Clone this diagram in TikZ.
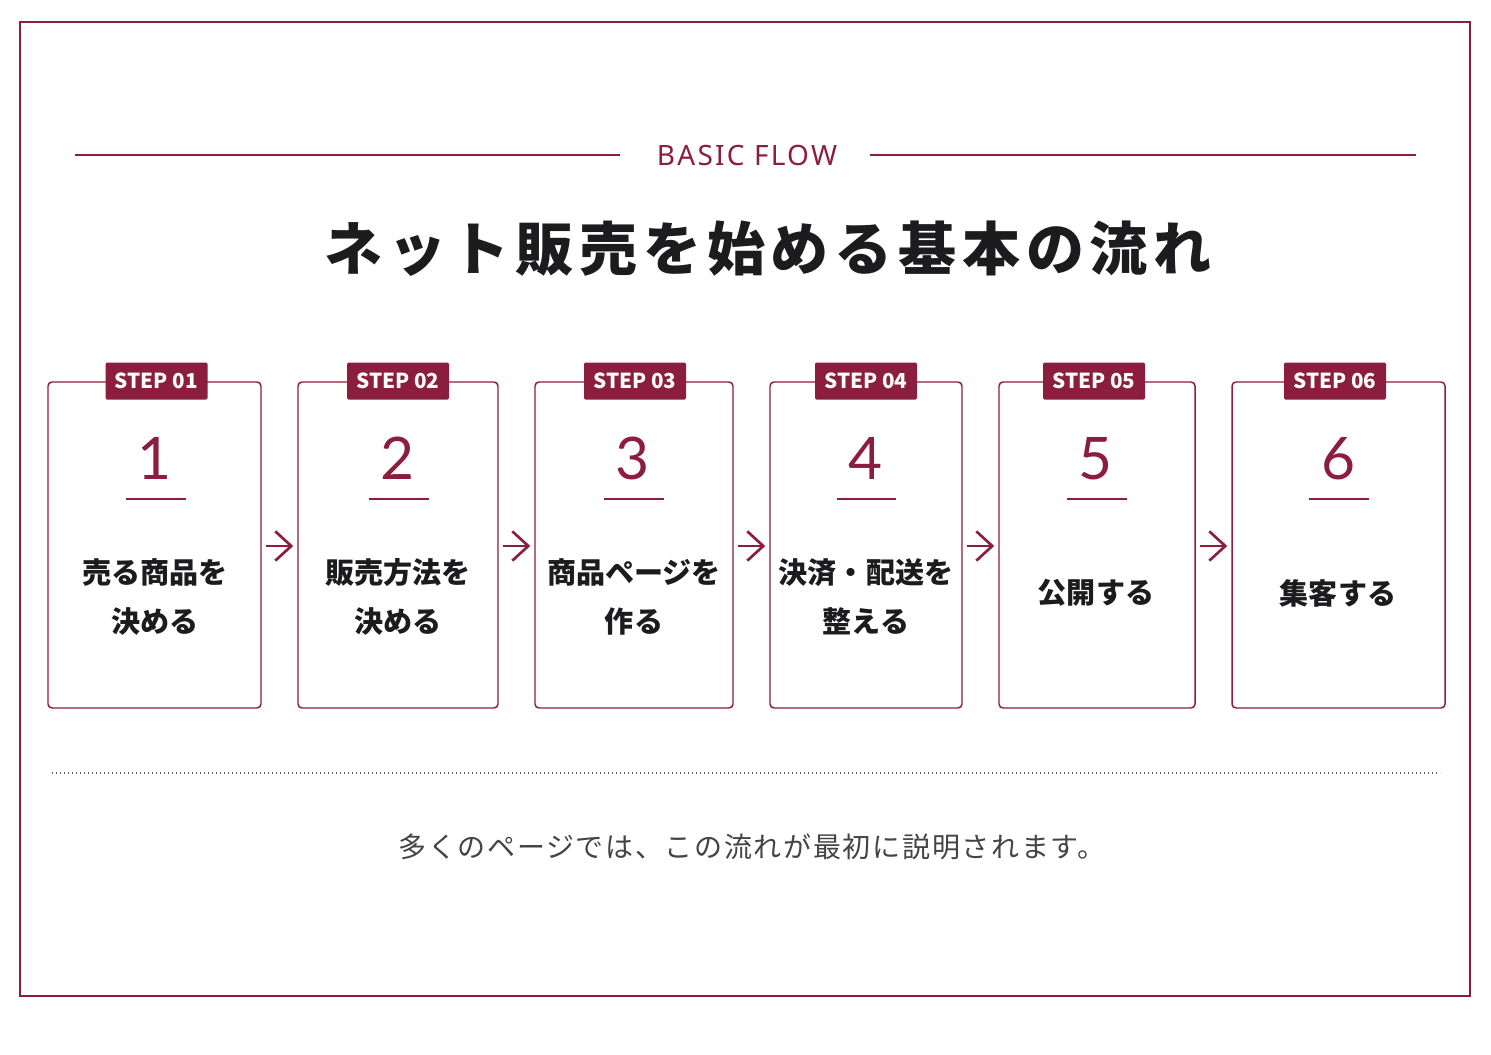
\documentclass[tikz,border=0pt]{standalone}
\usepackage{fontspec}
\usetikzlibrary{arrows.meta}
\setmainfont{Noto Sans CJK JP}
\newfontfamily\jp{Noto Sans CJK JP}
\newfontfamily\jptitle{Noto Sans CJK JP}[LetterSpace=10]
\newfontfamily\jpnote{Noto Sans CJK JP}[LetterSpace=6]
\newfontfamily\jptag{Noto Sans CJK JP}
\newfontfamily\lat{Noto Sans}
\newfontfamily\latsp{Noto Sans}[LetterSpace=8]
\IfFontExistsTF{Lato}{\newfontfamily\numfont{Lato}}{%
  \IfFontExistsTF{Fira Sans Light}{\newfontfamily\numfont{Fira Sans Light}}{\newfontfamily\numfont{Noto Sans}}}
\definecolor{wine}{HTML}{8B1E3E}
\definecolor{ink}{HTML}{1C1C1E}
\definecolor{note}{HTML}{444444}
\tikzset{
  stepbox/.style={draw=wine, line width=1.1pt, rounded corners=3pt, fill=white, minimum height=244.5pt, inner sep=0pt},
  steptag/.style={fill=wine, rounded corners=1pt, minimum width=76.5pt, minimum height=27.75pt, inner sep=0pt, text=white, font=\jptag\bfseries\fontsize{15.5}{18}\selectfont},
  stepnum/.style={text=wine, anchor=base, inner sep=0pt, font=\numfont\fontsize{44}{50}\selectfont},
  steptext/.style={text=ink, align=center, inner sep=0pt, font=\jp\bfseries\fontsize{21.8}{36.75}\selectfont},
  numline/.style={draw=wine, line width=1.1pt},
  flowarrow/.style={draw=wine, line width=2pt, -{Straight Barb[length=12pt,width=22pt,line width=2pt]}, shorten <=3pt, shorten >=3pt}
}
\begin{document}
\begin{tikzpicture}[x=0.75pt,y=-0.75pt]
\path[fill=white] (0,0) rectangle (1491,1055);
\useasboundingbox (0,0) rectangle (1491,1055);
% outer frame
\draw[wine, line width=1.5pt] (20,22) rectangle (1470,996);
% header
\node[text=wine, font=\latsp\fontsize{21}{24}\selectfont, inner sep=0pt] (bf) at (747,155) {BASIC FLOW};
\draw[wine, line width=1pt] (75,155) -- (620,155);
\draw[wine, line width=1pt] (870,155) -- (1416,155);
\node[text=ink, font=\jptitle\bfseries\fontsize{43.5}{50}\selectfont, inner sep=0pt] (title) at (768,249) {ネット販売を始める基本の流れ};
% boxes
\node[stepbox, minimum width=159.75pt] (b1) at (154.5,545) {};
\node[stepbox, minimum width=150pt] (b2) at (398,545) {};
\node[stepbox, minimum width=148.5pt] (b3) at (634,545) {};
\node[stepbox, minimum width=144pt] (b4) at (866,545) {};
\node[stepbox, minimum width=147pt] (b5) at (1097,545) {};
\node[stepbox, minimum width=159.75pt] (b6) at (1338.5,545) {};
% tags
\node[steptag] (t1) at (156.5,381) {STEP 01};
\node[steptag] (t2) at (398,381) {STEP 02};
\node[steptag] (t3) at (635,381) {STEP 03};
\node[steptag] (t4) at (866,381) {STEP 04};
\node[steptag] (t5) at (1094,381) {STEP 05};
\node[steptag] (t6) at (1335,381) {STEP 06};
% numbers
\node[stepnum] (n1) at (155,479) {1};
\node[stepnum] (n2) at (398,479) {2};
\node[stepnum] (n3) at (633,479) {3};
\node[stepnum] (n4) at (866,479) {4};
\node[stepnum] (n5) at (1095,479) {5};
\node[stepnum] (n6) at (1338,479) {6};
\draw[numline] (126,499) -- (186,499);
\draw[numline] (369,499) -- (429,499);
\draw[numline] (604,499) -- (664,499);
\draw[numline] (837,499) -- (896,499);
\draw[numline] (1067,499) -- (1127,499);
\draw[numline] (1309,499) -- (1369,499);
% texts
\node[steptext] (s1) at (155,597) {売る商品を\\決める};
\node[steptext] (s2) at (398,597) {販売方法を\\決める};
\node[steptext] (s3) at (634,597) {商品ページを\\作る};
\node[steptext] (s4) at (866,597) {決済・配送を\\整える};
\node[steptext] (s5) at (1096,593) {公開する};
\node[steptext] (s6) at (1338,593) {集客する};
% arrows
\draw[flowarrow] (b1.east |- 0,546) -- (b2.west |- 0,546);
\draw[flowarrow] (b2.east |- 0,546) -- (b3.west |- 0,546);
\draw[flowarrow] (b3.east |- 0,546) -- (b4.west |- 0,546);
\draw[flowarrow] (b4.east |- 0,546) -- (b5.west |- 0,546);
\draw[flowarrow] (b5.east |- 0,546) -- (b6.west |- 0,546);
% divider
\draw[note!85, line width=1pt, dotted] (52,773) -- (1440,773);
% note
\node[text=note, font=\jpnote\fontsize{21}{24}\selectfont, inner sep=0pt] (nt) at (752,847) {多くのページでは、この流れが最初に説明されます。};
\end{tikzpicture}
\end{document}
